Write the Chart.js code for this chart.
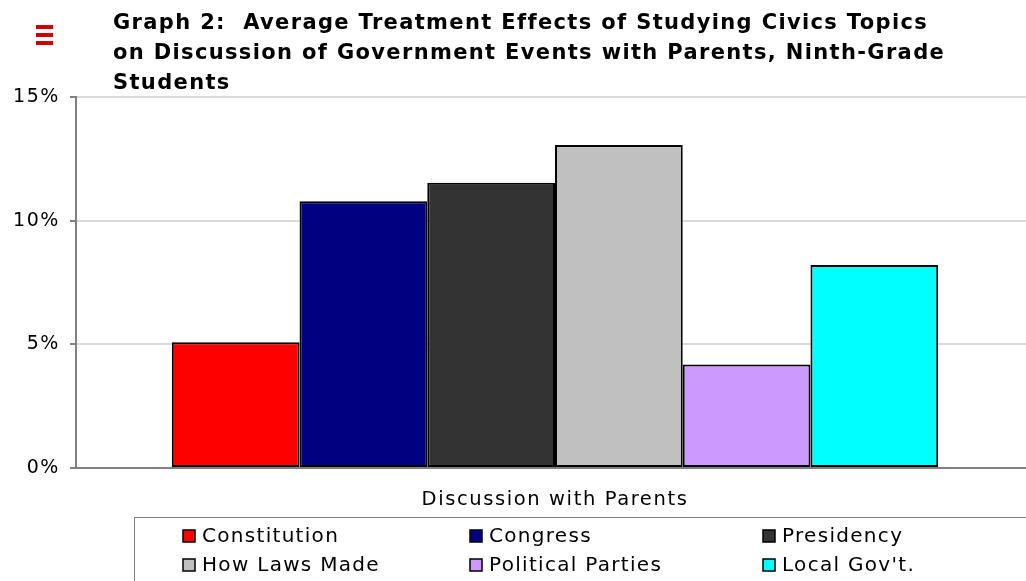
<!DOCTYPE html>
<html>
<head>
<meta charset="utf-8">
<script src="https://cdn.jsdelivr.net/npm/chart.js@4"></script>
<style>
  html, body { margin: 0; padding: 0; background: #ffffff; overflow: hidden; }
  #wrap { width: 1026px; height: 581px; position: relative; overflow: hidden; }
  #c { display: block; }
</style>
</head>
<body>
<div id="wrap"><canvas id="c" width="1034" height="581"></canvas></div>
<script>
const titleLines = [
  "Graph 2:  Average Treatment Effects of Studying Civics Topics",
  "on Discussion of Government Events with Parents, Ninth-Grade",
  "Students"
];
const categories = ["Discussion with Parents"];
const topics = ["Constitution", "Congress", "Presidency", "How Laws Made", "Political Parties", "Local Gov't."];
const effects = [5.08, 10.79, 11.53, 13.06, 4.18, 8.21];
const colors = ["#FF0000", "#000080", "#333333", "#C0C0C0", "#CC99FF", "#00FFFF"];
const yTicks = [0, 5, 10, 15];

const FONT = "'DejaVu Sans', Verdana, sans-serif";

const spacingPlugin = {
  id: 'spacing',
  beforeDraw(chart) { chart.ctx.letterSpacing = '1.6px'; },
  afterDraw(chart) { chart.ctx.letterSpacing = '0px'; }
};

const decorPlugin = {
  id: 'decor',
  afterDraw(chart) {
    const ctx = chart.ctx;
    ctx.save();
    // red icon
    ctx.fillStyle = '#CC0000';
    ctx.fillRect(36, 25, 17, 4);
    ctx.fillRect(36, 33, 17, 4);
    ctx.fillRect(36, 41, 17, 4);
    // title
    ctx.fillStyle = '#000000';
    ctx.font = "bold 21px " + FONT;
    ctx.letterSpacing = '1.35px';
    ctx.textBaseline = 'alphabetic';
    ctx.textAlign = 'left';
    titleLines.forEach((t, i) => ctx.fillText(t, 113, 29 + i * 30));
    // legend box
    ctx.letterSpacing = '0px';
    ctx.strokeStyle = '#808080';
    ctx.lineWidth = 1;
    ctx.strokeRect(134.5, 517.5, 920, 80);
    const colX = [183, 470, 763];
    const rowY = [536, 565];
    ctx.font = "20px " + FONT;
    ctx.textBaseline = 'middle';
    chart.data.datasets.forEach((ds, i) => {
      const x = colX[i % 3];
      const y = rowY[Math.floor(i / 3)];
      ctx.fillStyle = ds.backgroundColor;
      ctx.fillRect(x, y - 6, 12, 12);
      ctx.strokeStyle = '#000000';
      ctx.lineWidth = 1.5;
      ctx.strokeRect(x, y - 6, 12, 12);
      ctx.fillStyle = '#000000';
      ctx.letterSpacing = '1.3px';
      ctx.fillText(ds.label, x + 19, y + 1);
      ctx.letterSpacing = '0px';
    });
    ctx.restore();
  }
};

new Chart(document.getElementById('c'), {
  type: 'bar',
  data: {
    labels: categories,
    datasets: topics.map((t, i) => ({
      label: t,
      data: [effects[i]],
      backgroundColor: colors[i],
      borderColor: '#000000',
      borderWidth: 2,
      borderSkipped: false
    }))
  },
  options: {
    responsive: false,
    animation: false,
    devicePixelRatio: 1,
    layout: { padding: { top: 97, left: 0, right: 0, bottom: 0 } },
    plugins: {
      legend: { display: false },
      title: { display: false },
      tooltip: { enabled: false }
    },
    datasets: { bar: { categoryPercentage: 0.8, barPercentage: 1.0 } },
    scales: {
      x: {
        grid: { display: false, drawTicks: false },
        border: { display: true, color: '#808080', width: 2 },
        ticks: { color: '#000000', font: { family: FONT, size: 19.5 }, padding: 20 },
        afterFit(s) { s.height = 113; }
      },
      y: {
        min: 0,
        max: 15,
        afterBuildTicks(s) { s.ticks = yTicks.map(v => ({ value: v })); },
        grid: { color: '#D9D9D9', lineWidth: 2, tickLength: 6, tickColor: '#808080' },
        border: { display: true, color: '#808080', width: 2 },
        ticks: {
          color: '#000000',
          font: { family: FONT, size: 19 },
          padding: 10,
          callback: v => v + '%'
        },
        afterFit(s) { s.width = 76; }
      }
    }
  },
  plugins: [spacingPlugin, decorPlugin]
});
</script>
</body>
</html>
